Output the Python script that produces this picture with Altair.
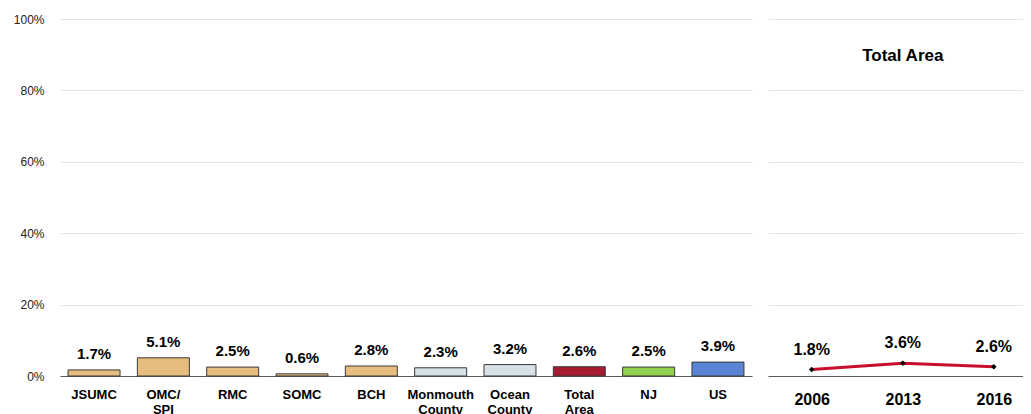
import altair as alt
import pandas as pd

# ---- data ----
categories = ["JSUMC", "OMC/ SPI", "RMC", "SOMC", "BCH",
              "Monmouth County", "Ocean County", "Total Area", "NJ", "US"]
values = [1.7, 5.1, 2.5, 0.6, 2.8, 2.3, 3.2, 2.6, 2.5, 3.9]
years = ["2006", "2013", "2016"]
trend = [1.8, 3.6, 2.6]
panel_title = ["Total Area"]
y_ticks = [0, 20, 40, 60, 80, 100]

# ---- styles ----
palette = ["#E6BD7F", "#E6BD7F", "#E6BD7F", "#E6BD7F", "#E6BD7F",
           "#D6E2E7", "#D6E2E7", "#A51B30", "#92D050", "#5A85D5"]
FONT = "Liberation Sans"
GRID = "#E4E4E4"
DOMAIN = "#5A5A5A"

df = pd.DataFrame({"cat": categories, "val": values})
df["label"] = [f"{v:.1f}%" for v in values]

y_left = alt.Y("val:Q", scale=alt.Scale(domain=[0, 100]),
               axis=alt.Axis(values=y_ticks, labelExpr="datum.value + '%'", title=None,
                             ticks=False, domain=False, labelPadding=16, labelFontSize=12,
                             labelColor="#222222", gridColor=GRID))
x_left = alt.X("cat:N", sort=categories,
               scale=alt.Scale(paddingInner=0.25, paddingOuter=0.116),
               axis=alt.Axis(title=None, labelAngle=0, labelExpr="split(datum.label, ' ')",
                             labelFontWeight="bold", labelFontSize=13, labelPadding=12,
                             labelLineHeight=15, ticks=False, domainColor=DOMAIN,
                             labelColor="black"))

bars = alt.Chart(df).mark_bar(stroke="#3A3A3A", strokeWidth=1).encode(
    x=x_left, y=y_left,
    color=alt.Color("cat:N", scale=alt.Scale(domain=categories, range=palette), legend=None))
bar_text = alt.Chart(df).mark_text(dy=-16, fontSize=15, fontWeight="bold", color="black").encode(
    x=x_left, y=y_left, text="label:N")
left = alt.layer(bars, bar_text).properties(width=692, height=357)

tdf = pd.DataFrame({"year": years, "val": trend})
tdf["label"] = [f"{v:.1f}%" for v in trend]
x_right = alt.X("year:O", scale=alt.Scale(type="point", padding=0.4, align=0.6),
                axis=alt.Axis(title=None, labelAngle=0, labelFontSize=16, labelFontWeight="bold",
                              labelPadding=15, ticks=False, domainColor=DOMAIN,
                              labelColor="black"))
y_right = alt.Y("val:Q", scale=alt.Scale(domain=[0, 100]),
                axis=alt.Axis(values=y_ticks, labels=False, ticks=False, domain=False,
                              title=None, gridColor=GRID, labelPadding=0))

line = alt.Chart(tdf).mark_line(color="#C8102E", strokeWidth=3).encode(x=x_right, y=y_right)
pts = alt.Chart(tdf).mark_point(shape="diamond", filled=True, color="black", size=30,
                                opacity=1).encode(x=x_right, y=y_right)
lbl = alt.Chart(tdf).mark_text(dy=-20, fontSize=16, fontWeight="bold", color="black").encode(
    x=x_right, y=y_right, text="label:N")
tdf_title = pd.DataFrame({"t": panel_title, "year": [years[1]], "val": [89.5]})
ttl = alt.Chart(tdf_title).mark_text(fontSize=17, fontWeight="bold", color="black").encode(
    x=x_right, y=y_right, text="t:N")
right = alt.layer(line, pts, lbl, ttl).properties(width=255, height=357)

chart = alt.hconcat(left, right, spacing=16).properties(
    padding={"left": 5, "top": 5, "right": 0, "bottom": 0}
).configure(font=FONT).configure_view(stroke=None).configure_axis(labelFont=FONT)

chart.save("out.html", embed_options={"renderer": "svg", "actions": False})
